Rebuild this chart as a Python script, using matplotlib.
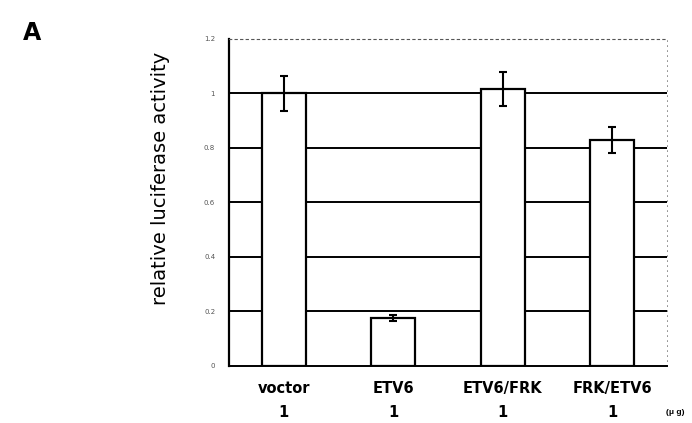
import matplotlib.pyplot as plt

categories = ["voctor", "ETV6", "ETV6/FRK", "FRK/ETV6"]
amounts = ["1", "1", "1", "1"]
activity = [1.0, 0.175, 1.015, 0.83]
errors = [0.065, 0.01, 0.062, 0.048]
yticks = [0, 0.2, 0.4, 0.6, 0.8, 1, 1.2]
ytick_labels = ["0", "0.2", "0.4", "0.6", "0.8", "1", "1.2"]

plt.rcParams["font.family"] = ["DejaVu Sans"]

fig = plt.figure(figsize=(6.92, 4.23), dpi=100)
ax = fig.add_axes([0.331, 0.135, 0.633, 0.773])

x = list(range(len(categories)))

# solid horizontal grid behind the bars
for yv in yticks[1:-1]:
    ax.axhline(yv, color="black", linewidth=1.4, zorder=1)

ax.bar(x, activity, width=0.4, color="white", edgecolor="black",
       linewidth=1.6, zorder=2)
ax.errorbar(x, activity, yerr=errors, fmt="none", ecolor="black",
            elinewidth=1.5, capsize=3, capthick=1.5, zorder=3)

ax.set_xlim(-0.5, 3.5)
ax.set_ylim(0, 1.2)
ax.set_yticks(yticks)
ax.set_yticklabels(ytick_labels, fontsize=5, color="#555555")
ax.tick_params(axis="y", length=0, pad=10)
ax.set_xticks(x)
ax.set_xticklabels(categories, fontsize=10.5, fontweight="bold")
ax.tick_params(axis="x", length=0, pad=11)

for i, a in enumerate(amounts):
    ax.text(i, -0.17, a, ha="center", va="center",
            fontsize=10.5, fontweight="bold")
ax.text(3.49, -0.17, "(μ g)", ha="left", va="center", fontsize=6,
        fontweight="bold", family=["Liberation Sans", "DejaVu Sans"])

ax.spines["left"].set_linewidth(1.6)
ax.spines["bottom"].set_linewidth(1.4)
ax.spines["top"].set_linestyle((0, (2, 3)))
ax.spines["top"].set_linewidth(0.8)
ax.spines["top"].set_color("#555555")
ax.spines["right"].set_linestyle((0, (1, 5)))
ax.spines["right"].set_linewidth(0.6)
ax.spines["right"].set_color("#777777")

fig.text(160 / 692, 1 - 178 / 423, "relative luciferase activity",
         rotation=90, fontsize=14, ha="center", va="center")

fig.text(0.046, 0.922, "A", fontsize=17, fontweight="bold",
         ha="center", va="center")

fig.savefig("out.png", dpi=100)
